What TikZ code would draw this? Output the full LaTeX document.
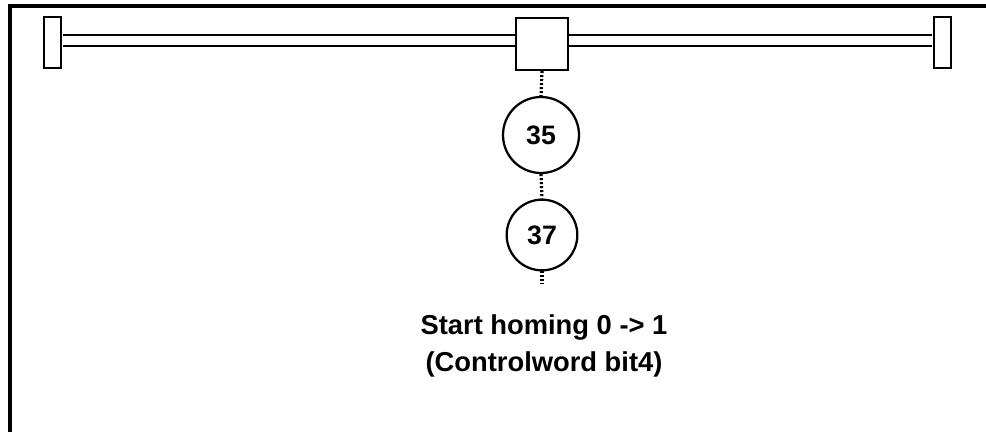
\documentclass[tikz,border=0pt]{standalone}
\usepackage{fontspec}
\setmainfont{Liberation Sans}
\begin{document}
\begin{tikzpicture}[x=0.75pt,y=-0.75pt,
    stopper/.style={draw,line width=1.7pt,fill=white,minimum width=12.75pt,minimum height=38.25pt,inner sep=0pt},
    slider/.style={draw,line width=1.7pt,fill=white,minimum size=39pt,inner sep=0pt},
    homestep/.style={draw,circle,line width=1.7pt,inner sep=0pt,font=\fontsize{20}{24}\selectfont\bfseries},
    link/.style={line width=2.4pt,dash pattern=on 1.5pt off 1.5pt},
    rail/.style={double,line width=1.7pt,double distance=6.6pt,shorten <=0.85pt,shorten >=0.85pt}]
  \clip (0,0) rectangle (986,432);
  \draw[line width=2.4pt] (10,6) rectangle (1010,460);
  \node[stopper] (leftstop) at (52.5,42.5) {};
  \node[stopper] (rightstop) at (942.5,42.5) {};
  \draw[rail] ([yshift=1.5pt]leftstop.east) -- ([yshift=1.5pt]rightstop.west);
  \node[slider] (carriage) at (542,44) {};
  \node[homestep,minimum size=57pt] (s35) at (541,135) {35};
  \node[homestep,minimum size=53pt] (s37) at (542,235) {37};
  \coordinate (tail) at (542,284);
  \draw[link] (carriage.south) -- (s35.north);
  \draw[link] (s35.south) -- (s37.north);
  \draw[link] (s37.south) -- (tail);
  \node[align=center,font=\fontsize{20.5}{27.75}\selectfont\bfseries] (caption) at (544,346)
    {Start homing 0 -> 1\\(Controlword bit4)};
\end{tikzpicture}
\end{document}
